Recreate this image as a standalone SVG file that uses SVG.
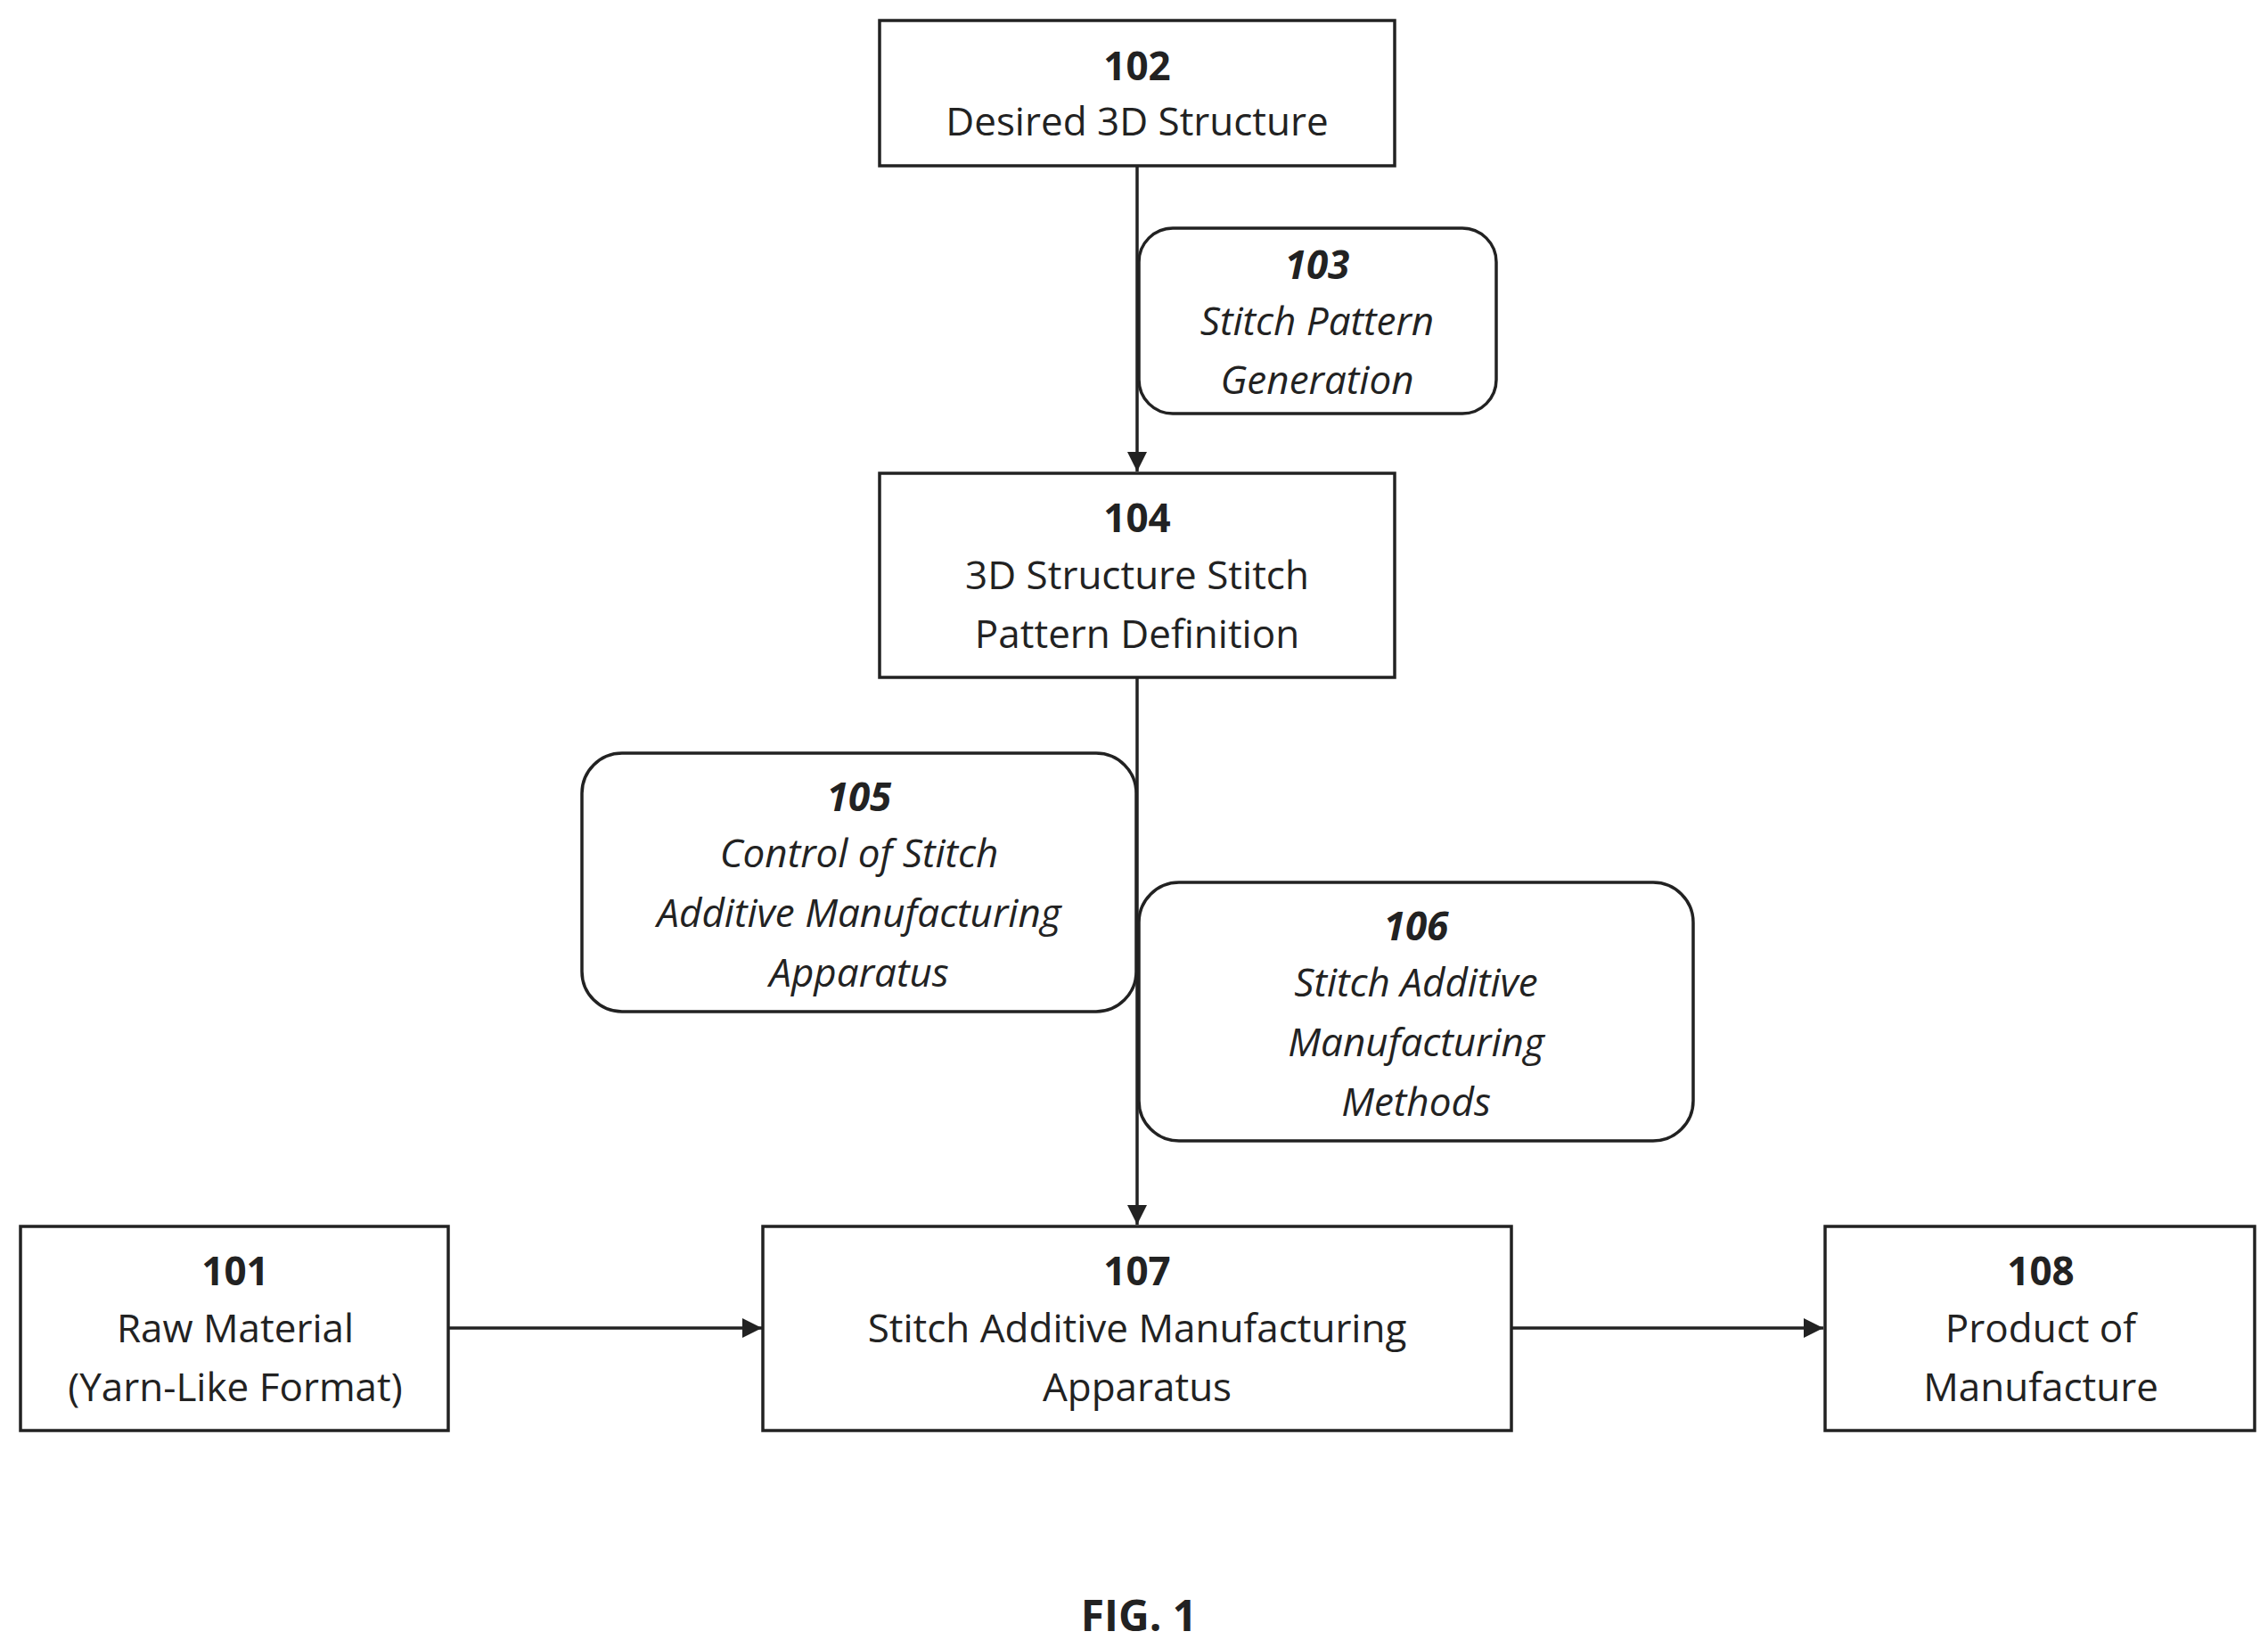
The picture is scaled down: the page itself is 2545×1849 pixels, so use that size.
<svg xmlns="http://www.w3.org/2000/svg" width="2545" height="1849" viewBox="0 0 2545 1849">
<style>
.b{fill:#fff;stroke:#222;stroke-width:3.5}
text{font-family:"Open Sans","Liberation Sans",sans-serif;font-size:44px;fill:#222;text-anchor:middle}
.n{font-weight:bold}
.i{font-style:italic}
.c{stroke:#222;stroke-width:3.5;fill:none}
</style>
<defs><marker id="a" markerWidth="8" markerHeight="8" refX="7" refY="4" orient="auto" markerUnits="userSpaceOnUse" viewBox="0 0 8 8"><path d="M0,0L8,4L0,8z" fill="#222"/></marker>
<marker id="ah" viewBox="0 0 10 10" refX="10" refY="5" markerWidth="24" markerHeight="22" orient="auto" markerUnits="userSpaceOnUse"><path d="M0,0L10,5L0,10z" fill="#222"/></marker></defs>
<g id="connectors">
<line class="c" x1="1276" y1="186" x2="1276" y2="529" marker-end="url(#ah)"/>
<line class="c" x1="1276" y1="760" x2="1276" y2="1374" marker-end="url(#ah)"/>
<line class="c" x1="503" y1="1490" x2="855" y2="1490" marker-end="url(#ah)"/>
<line class="c" x1="1696" y1="1490" x2="2046" y2="1490" marker-end="url(#ah)"/>
</g>
<g id="n102"><rect class="b" x="987" y="23" width="578" height="163"/><text x="1276" y="90" class="n">102</text><text x="1276" y="152">Desired 3D Structure</text></g>
<g id="n103"><rect class="b" x="1278" y="256" width="401" height="208" rx="38"/><text x="1478" y="313" class="n i">103</text><text x="1478" y="376" class="i">Stitch Pattern</text><text x="1478" y="442" class="i">Generation</text></g>
<g id="n104"><rect class="b" x="987" y="531" width="578" height="229"/><text x="1276" y="597" class="n">104</text><text x="1276" y="661">3D Structure Stitch</text><text x="1276" y="727">Pattern Definition</text></g>
<g id="n105"><rect class="b" x="653" y="845" width="622" height="290" rx="45"/><text x="964" y="910" class="n i">105</text><text x="964" y="973" class="i">Control of Stitch</text><text x="964" y="1040" class="i">Additive Manufacturing</text><text x="964" y="1107" class="i">Apparatus</text></g>
<g id="n106"><rect class="b" x="1278" y="990" width="622" height="290" rx="45"/><text x="1589" y="1055" class="n i">106</text><text x="1589" y="1118" class="i">Stitch Additive</text><text x="1589" y="1185" class="i">Manufacturing</text><text x="1589" y="1252" class="i">Methods</text></g>
<g id="n101"><rect class="b" x="23" y="1376" width="480" height="229"/><text x="264" y="1442" class="n">101</text><text x="264" y="1506">Raw Material</text><text x="264" y="1572">(Yarn-Like Format)</text></g>
<g id="n107"><rect class="b" x="856" y="1376" width="840" height="229"/><text x="1276" y="1442" class="n">107</text><text x="1276" y="1506">Stitch Additive Manufacturing</text><text x="1276" y="1572">Apparatus</text></g>
<g id="n108"><rect class="b" x="2048" y="1376" width="482" height="229"/><text x="2290" y="1442" class="n">108</text><text x="2290" y="1506">Product of</text><text x="2290" y="1572">Manufacture</text></g>
<text x="1278" y="1830" class="n" style="font-size:48px">FIG. 1</text>
</svg>
